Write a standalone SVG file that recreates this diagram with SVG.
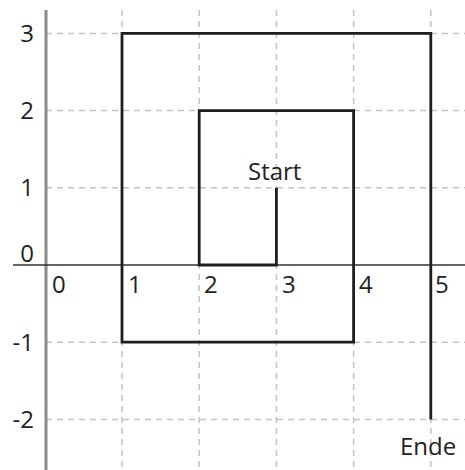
<svg xmlns="http://www.w3.org/2000/svg" width="465" height="470" viewBox="0 0 465 470">
<style>
.grid{stroke:#c4c4c4;stroke-width:1.5;stroke-dasharray:6 5;fill:none}
.lbl{font-family:"Open Sans","DejaVu Sans",sans-serif;font-size:24px;fill:#222}
.path{stroke:#1e1e1e;stroke-width:2.8;fill:none;stroke-linejoin:miter}
</style>
<rect width="465" height="470" fill="#fff"/>
<g id="grid">
<line class="grid" x1="122" y1="10" x2="122" y2="470"/>
<line class="grid" x1="199.2" y1="10" x2="199.2" y2="470"/>
<line class="grid" x1="276.4" y1="10" x2="276.4" y2="470"/>
<line class="grid" x1="353.6" y1="10" x2="353.6" y2="470"/>
<line class="grid" x1="430.8" y1="10" x2="430.8" y2="470"/>
<line class="grid" x1="46" y1="33.4" x2="465" y2="33.4"/>
<line class="grid" x1="46" y1="110.6" x2="465" y2="110.6"/>
<line class="grid" x1="46" y1="187.8" x2="465" y2="187.8"/>
<line class="grid" x1="46" y1="342.2" x2="465" y2="342.2"/>
<line class="grid" x1="46" y1="419.4" x2="465" y2="419.4"/>
</g>
<g id="axes">
<line x1="46" y1="10" x2="46" y2="470" stroke="#8a8a8a" stroke-width="3"/>
<line x1="13" y1="265" x2="465" y2="265" stroke="#333" stroke-width="1.6"/>
</g>
<g id="labels" class="lbl">
<text x="34" y="42" text-anchor="end">3</text>
<text x="34" y="119" text-anchor="end">2</text>
<text x="34" y="196" text-anchor="end">1</text>
<text x="34" y="262" text-anchor="end">0</text>
<text x="34" y="351" text-anchor="end">-1</text>
<text x="34" y="428" text-anchor="end">-2</text>
<text x="52" y="293">0</text>
<text x="128" y="293">1</text>
<text x="204" y="293">2</text>
<text x="282" y="293">3</text>
<text x="359" y="293">4</text>
<text x="435" y="293">5</text>
</g>
<g id="spiral">
<polyline class="path" points="276.4,187.8 276.4,265 199.2,265 199.2,110.6 353.6,110.6 353.6,342.2 122,342.2 122,33.4 430.8,33.4 430.8,419.4"/>
</g>
<g id="start"><text class="lbl" x="248" y="180">Start</text></g>
<g id="ende"><text class="lbl" x="400" y="455">Ende</text></g>
</svg>
